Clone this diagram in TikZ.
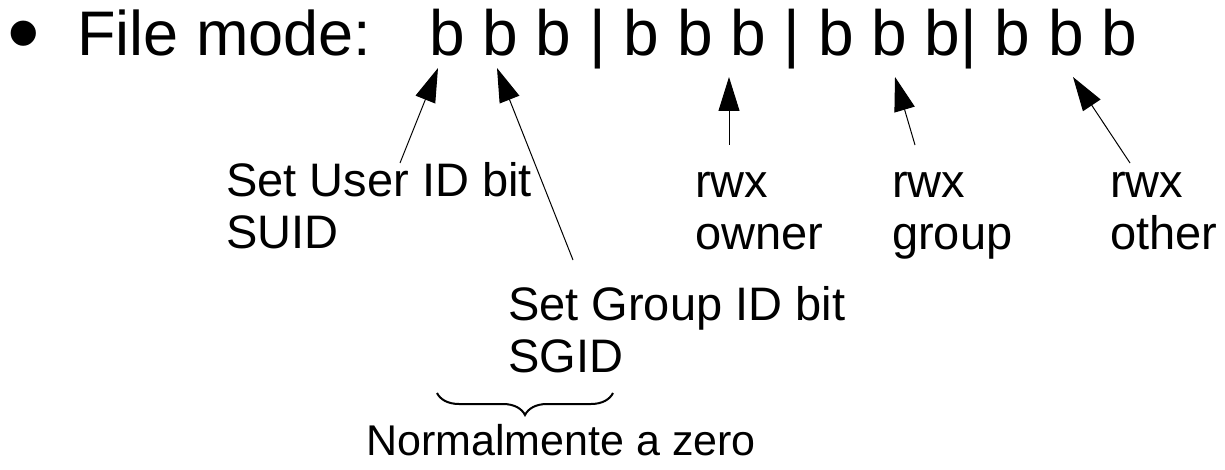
\documentclass[tikz,border=0pt]{standalone}
\usepackage{fontspec}
\setmainfont{Liberation Sans}
\usepackage{tikz}
\usetikzlibrary{arrows.meta}
\usetikzlibrary{decorations.pathreplacing}
\definecolor{inkblack}{RGB}{0, 0, 0}

\tikzset{
    headline/.style={inner sep=0pt, anchor=base west, font=\fontsize{63pt}{70pt}\selectfont},
    bulletmark/.style={inner sep=0pt, anchor=base west, font=\fontsize{93pt}{100pt}\selectfont},
    bitrow/.style={inner sep=0pt, anchor=base west, font=\fontsize{64pt}{72pt}\selectfont},
    bitlabel/.style={inner sep=0pt, anchor=base west, align=left, font=\fontsize{47pt}{52pt}\selectfont},
    notelabel/.style={inner sep=0pt, anchor=base west, font=\fontsize{43pt}{48pt}\selectfont},
    pointer/.style={inkblack, line width=1pt, -{Triangle[length=34pt, width=21pt]}},
}

\begin{document}
\begin{tikzpicture}[x=1pt, y=-1pt]
            % Frame to fix the page size
            \useasboundingbox (0, 0) rectangle (1225, 470);
            % Top line
            \node[bulletmark] (dot) at (  7, 65) {•};
            \node[headline] (title) at ( 77, 56) {File mode:};
            \node[bitrow]   (bits)  at (429, 56) {b b b | b b b | b b b| b b b};
            % Labels (base = last line)
            \node[bitlabel] (suid)  at (226, 249) {Set User ID bit\\SUID};
            \node[bitlabel] (sgid)  at (508, 372) {Set Group ID bit\\SGID};
            \node[bitlabel] (owner) at (695, 250) {rwx\\owner};
            \node[bitlabel] (group) at (892, 250) {rwx\\group};
            \node[bitlabel] (other) at (1110, 250) {rwx\\other};
            \node[notelabel] (zero) at (366, 455) {Normalmente a zero};
            % Arrow ends
            \coordinate (suidtail)  at ( 400, 163);
            \coordinate (suidtip)   at ( 438,  68);
            \coordinate (sgidtail)  at ( 573, 260);
            \coordinate (sgidtip)   at ( 497,  68);
            \coordinate (ownertail) at ( 729, 145);
            \coordinate (ownertip)  at ( 729,  77);
            \coordinate (grouptail) at ( 915, 145);
            \coordinate (grouptip)  at ( 895,  77);
            \coordinate (othertail) at (1130, 163);
            \coordinate (othertip)  at (1073,  77);
            % Arrows
            \draw[pointer] (suidtail)  -- (suidtip);
            \draw[pointer] (sgidtail)  -- (sgidtip);
            \draw[pointer] (ownertail) -- (ownertip);
            \draw[pointer] (grouptail) -- (grouptip);
            \draw[pointer] (othertail) -- (othertip);
            % Brace over the note
            \coordinate (braceright) at (613, 393);
            \coordinate (braceleft)  at (437, 393);
            \draw[inkblack, line width=2pt, decorate, decoration={brace, amplitude=22pt}] (braceright) -- (braceleft);
\end{tikzpicture}
\end{document}
